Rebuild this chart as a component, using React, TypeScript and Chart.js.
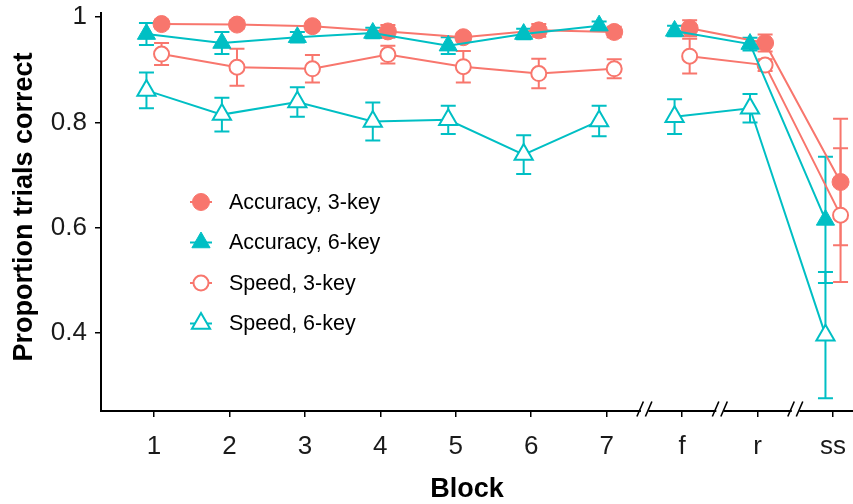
import React, { useEffect, useRef } from 'react';
import { Chart, registerables } from 'chart.js';

Chart.register(...registerables);

// ---- data ----
const categories = ['1', '2', '3', '4', '5', '6', '7', 'f', 'r', 'ss'];
const yTickValues = [0.4, 0.6, 0.8, 1];
const seriesLabels = ['Accuracy, 3-key', 'Accuracy, 6-key', 'Speed, 3-key', 'Speed, 6-key'];

const accuracy3 = [0.987, 0.986, 0.983, 0.973, 0.962, 0.975, 0.972, 0.979, 0.951, 0.687];
const accuracy3Err = [0.008, 0.008, 0.008, 0.012, 0.008, 0.012, 0.010, 0.015, 0.016, 0.12];
const accuracy6 = [0.968, 0.951, 0.962, 0.970, 0.946, 0.968, 0.984, 0.974, 0.949, 0.615];
const accuracy6Err = [0.021, 0.021, 0.010, 0.010, 0.016, 0.010, 0.008, 0.010, 0.012, 0.12];
const speed3 = [0.930, 0.905, 0.902, 0.929, 0.906, 0.893, 0.902, 0.926, 0.909, 0.624];
const speed3Err = [0.021, 0.035, 0.026, 0.017, 0.030, 0.028, 0.018, 0.033, 0.011, 0.127];
const speed6 = [0.861, 0.815, 0.839, 0.802, 0.805, 0.739, 0.803, 0.811, 0.827, 0.396];
const speed6Err = [0.034, 0.032, 0.028, 0.036, 0.027, 0.037, 0.029, 0.033, 0.027, 0.12];

// axis breaks drawn after these category positions; line is interrupted after block 7
const axisBreaksAfter = [7, 8, 9];
const lineGapAfter = 7;

// ---- styles ----
const RED = '#F8766D';
const TEAL = '#00BFC4';
const FONT = "'Liberation Sans', Arial, sans-serif";
const DODGE = 0.1;

type Series = {
  label: string;
  values: number[];
  errors: number[];
  color: string;
  filled: boolean;
  shape: 'circle' | 'triangle';
  offset: number;
};

const series: Series[] = [
  { label: seriesLabels[0], values: accuracy3, errors: accuracy3Err, color: RED, filled: true, shape: 'circle', offset: DODGE },
  { label: seriesLabels[1], values: accuracy6, errors: accuracy6Err, color: TEAL, filled: true, shape: 'triangle', offset: -DODGE },
  { label: seriesLabels[2], values: speed3, errors: speed3Err, color: RED, filled: false, shape: 'circle', offset: DODGE },
  { label: seriesLabels[3], values: speed6, errors: speed6Err, color: TEAL, filled: false, shape: 'triangle', offset: -DODGE },
];

function markerRadius(s: Series) {
  if (s.shape === 'triangle') return 10.5;
  return s.filled ? 8.5 : 7.5;
}

function buildPoints(s: Series) {
  const pts: { x: number; y: number | null }[] = s.values.map((v, i) => ({ x: i + 1 + s.offset, y: v }));
  pts.splice(lineGapAfter, 0, { x: lineGapAfter + 0.5, y: null });
  return pts;
}

// drawing order: accuracy 6-key on top of accuracy 3-key
const drawOrder: Record<string, number> = {
  [seriesLabels[0]]: 2,
  [seriesLabels[1]]: 1,
  [seriesLabels[2]]: 4,
  [seriesLabels[3]]: 3,
};

function drawMarker(ctx: CanvasRenderingContext2D, s: Series, x: number, y: number) {
  const r = markerRadius(s);
  ctx.save();
  ctx.beginPath();
  if (s.shape === 'circle') {
    ctx.arc(x, y, r, 0, Math.PI * 2);
  } else {
    let rad = 0;
    const step = (Math.PI * 2) / 3;
    ctx.moveTo(x + Math.sin(rad) * r, y - Math.cos(rad) * r);
    rad += step;
    ctx.lineTo(x + Math.sin(rad) * r, y - Math.cos(rad) * r);
    rad += step;
    ctx.lineTo(x + Math.sin(rad) * r, y - Math.cos(rad) * r);
    ctx.closePath();
  }
  ctx.fillStyle = s.filled ? s.color : '#ffffff';
  ctx.fill();
  ctx.lineWidth = s.filled ? 1 : 2;
  ctx.strokeStyle = s.color;
  ctx.stroke();
  ctx.restore();
}

const errorBarPlugin = {
  id: 'errorBars',
  beforeDatasetsDraw(chart: any) {
    const { ctx } = chart;
    const xs = chart.scales.x;
    const ys = chart.scales.y;
    ctx.save();
    series.forEach((s) => {
      ctx.strokeStyle = s.color;
      ctx.lineWidth = 2;
      s.values.forEach((v, i) => {
        const e = s.errors[i];
        const px = xs.getPixelForValue(i + 1 + s.offset);
        const top = ys.getPixelForValue(v + e);
        const bot = ys.getPixelForValue(v - e);
        ctx.beginPath();
        ctx.moveTo(px, top);
        ctx.lineTo(px, bot);
        ctx.moveTo(px - 7.5, top);
        ctx.lineTo(px + 7.5, top);
        ctx.moveTo(px - 7.5, bot);
        ctx.lineTo(px + 7.5, bot);
        ctx.stroke();
      });
    });
    ctx.restore();
  },
};

const decorPlugin = {
  id: 'decor',
  afterDraw(chart: any) {
    const { ctx, chartArea } = chart;
    const xs = chart.scales.x;
    ctx.save();
    // axis breaks
    const y0 = chartArea.bottom;
    axisBreaksAfter.forEach((b) => {
      const cx = xs.getPixelForValue(b + 0.5);
      ctx.fillStyle = '#ffffff';
      ctx.fillRect(cx - 3.5, y0 - 2, 7.5, 4);
      ctx.strokeStyle = '#000000';
      ctx.lineWidth = 1.6;
      ctx.beginPath();
      ctx.moveTo(cx - 7.5, y0 + 5.5);
      ctx.lineTo(cx - 1, y0 - 9.5);
      ctx.moveTo(cx + 1, y0 + 5.5);
      ctx.lineTo(cx + 7.5, y0 - 9.5);
      ctx.stroke();
    });

    // legend
    const lx = chartArea.left + 100;
    const rowY0 = 202;
    const rowStep = 40.5;
    series.forEach((s, i) => {
      const y = rowY0 + i * rowStep;
      ctx.strokeStyle = s.color;
      ctx.lineWidth = 2;
      ctx.beginPath();
      ctx.moveTo(lx - 11, y);
      ctx.lineTo(lx + 11, y);
      ctx.stroke();
      drawMarker(ctx, s, lx, y);
      ctx.fillStyle = '#000000';
      ctx.font = `21.5px ${FONT}`;
      ctx.textAlign = 'left';
      ctx.textBaseline = 'middle';
      ctx.fillText(s.label, lx + 28, y + 1);
    });

    // axis titles
    ctx.fillStyle = '#000000';
    ctx.font = `bold 27px ${FONT}`;
    ctx.textAlign = 'center';
    ctx.textBaseline = 'middle';
    ctx.fillText('Block', 467, 490);
    ctx.save();
    ctx.translate(25, 207);
    ctx.rotate(-Math.PI / 2);
    ctx.fillText('Proportion trials correct', 0, 0);
    ctx.restore();
    ctx.restore();
  },
};

function zeroPadding(scale: any) {
  scale.paddingLeft = 0;
  scale.paddingRight = 0;
  scale.paddingTop = 0;
  scale.paddingBottom = 0;
}

export default function App() {
  const ref = useRef<HTMLCanvasElement>(null);

  useEffect(() => {
    const canvas = ref.current;
    if (!canvas) return;
    const datasets = series.map((s) => ({
      label: s.label,
      data: buildPoints(s),
      borderColor: s.color,
      backgroundColor: s.color,
      borderWidth: 2,
      tension: 0,
      spanGaps: false,
      order: drawOrder[s.label],
      pointStyle: s.shape,
      pointRadius: markerRadius(s),
      pointHoverRadius: markerRadius(s),
      pointBorderWidth: s.filled ? 1 : 2,
      pointBackgroundColor: s.filled ? s.color : '#ffffff',
      pointBorderColor: s.color,
    }));

    const chart = new Chart(canvas, {
      type: 'line',
      data: { datasets },
      plugins: [errorBarPlugin, decorPlugin],
      options: {
        animation: false,
        responsive: false,
        devicePixelRatio: 1,
        layout: { autoPadding: false, padding: { top: 13, right: 0, bottom: 0, left: 0 } },
        plugins: {
          legend: { display: false },
          tooltip: { enabled: false },
          title: { display: false },
        },
        scales: {
          x: {
            type: 'linear',
            min: 0.2975,
            max: 10.265,
            afterBuildTicks: (scale: any) => {
              scale.ticks = categories.map((_, i) => ({ value: i + 1 }));
            },
            afterFit: (scale: any) => {
              scale.height = 93;
              zeroPadding(scale);
            },
            ticks: {
              autoSkip: false,
              maxRotation: 0,
              padding: 14,
              color: '#1a1a1a',
              font: { family: FONT, size: 26 },
              callback: (v: any) => categories[Math.round(Number(v)) - 1] ?? '',
            },
            grid: {
              drawOnChartArea: false,
              drawTicks: true,
              tickLength: 6,
              color: '#000000',
              lineWidth: 1.5,
            },
            border: { display: true, color: '#000000', width: 2 },
          },
          y: {
            type: 'linear',
            min: 0.252,
            max: 1.008,
            afterBuildTicks: (scale: any) => {
              scale.ticks = yTickValues.map((v) => ({ value: v }));
            },
            afterFit: (scale: any) => {
              scale.width = 101;
              zeroPadding(scale);
            },
            ticks: {
              padding: 8,
              color: '#1a1a1a',
              font: { family: FONT, size: 26 },
              callback: (v: any) => String(v),
            },
            grid: {
              drawOnChartArea: false,
              drawTicks: true,
              tickLength: 6,
              color: '#000000',
              lineWidth: 1.5,
            },
            border: { display: true, color: '#000000', width: 2 },
          },
        },
      },
    } as any);
    return () => chart.destroy();
  }, []);

  return (
    <div style={{ position: 'absolute', left: 0, top: 0, width: 853, height: 504, background: '#ffffff' }}>
      <canvas ref={ref} width={853} height={504} style={{ display: 'block', width: 853, height: 504 }} />
    </div>
  );
}
